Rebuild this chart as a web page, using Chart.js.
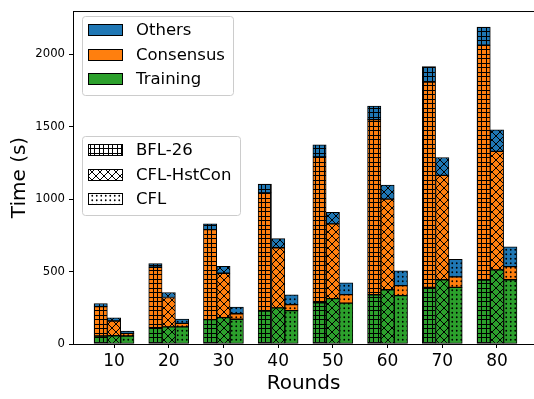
<!DOCTYPE html>
<html>
<head>
<meta charset="utf-8">
<script src="https://cdn.jsdelivr.net/npm/chart.js@4/dist/chart.umd.min.js"></script>
<style>
  html, body { margin: 0; padding: 0; background: #fff; overflow: hidden; }
  #wrap { position: relative; width: 534px; height: 399px; }
</style>
</head>
<body>
<div id="wrap"><canvas id="c"></canvas></div>
<script>
// ---- data ----
const rounds = [10, 20, 30, 40, 50, 60, 70, 80];
const yTicks = [0, 500, 1000, 1500, 2000];

const bflTraining  = [55, 112, 168, 228, 285, 340, 391, 441];
const bflConsensus = [203, 418, 622, 816, 1008, 1210, 1418, 1623];
const bflOthers    = [22, 25, 40, 60, 82, 93, 107, 125];

const hstTraining  = [57, 118, 182, 250, 313, 375, 444, 512];
const hstConsensus = [102, 203, 307, 415, 517, 626, 721, 819];
const hstOthers    = [21, 35, 48, 63, 79, 96, 123, 148];

const cflTraining  = [55, 118, 171, 230, 282, 334, 391, 444];
const cflConsensus = [18, 25, 38, 42, 59, 69, 73, 91];
const cflOthers    = [17, 29, 46, 68, 82, 102, 121, 136];

const componentNames = ['Others', 'Consensus', 'Training'];
const methodNames = ['BFL-26', 'CFL-HstCon', 'CFL'];

// ---- styles ----
const COLORS = { Training: '#2ca02c', Consensus: '#ff7f0e', Others: '#1f77b4' };
const HATCH = { 'BFL-26': 'grid', 'CFL-HstCon': 'cross', 'CFL': 'dots' };
const FONT = 'DejaVu Sans';

function makePattern(color, kind) {
  const size = kind === 'cross' ? 8 : 9;
  const c = document.createElement('canvas');
  c.width = size; c.height = size;
  const g = c.getContext('2d');
  g.fillStyle = color; g.fillRect(0, 0, size, size);
  g.fillStyle = '#000'; g.strokeStyle = '#000';
  if (kind === 'grid') {
    g.fillRect(0, 0, size, 1); g.fillRect(0, 4, size, 1);
    g.fillRect(0, 0, 1, size); g.fillRect(4, 0, 1, size);
  } else if (kind === 'cross') {
    g.lineWidth = 1;
    g.beginPath();
    for (const dx of [-size, 0, size]) {
      g.moveTo(dx - 1, -1); g.lineTo(dx + size + 1, size + 1);
      g.moveTo(dx + size + 1, -1); g.lineTo(dx - 1, size + 1);
    }
    g.stroke();
  } else {
    g.beginPath();
    for (const [x, y] of [[2.25, 2.25], [6.75, 2.25], [2.25, 6.75], [6.75, 6.75]]) {
      g.moveTo(x + 0.9, y); g.arc(x, y, 0.9, 0, Math.PI * 2);
    }
    g.fill();
  }
  return document.createElement('canvas').getContext('2d').createPattern(c, 'repeat');
}

function series(method, comp, values) {
  return {
    label: method + ' ' + comp,
    stack: method,
    data: rounds.map((r, i) => ({ x: r, y: values[i] })),
    backgroundColor: makePattern(COLORS[comp], HATCH[method]),
    borderColor: '#000',
    borderWidth: 1,
    borderSkipped: false,
    barThickness: 13.33
  };
}

const datasets = [
  series('BFL-26', 'Training', bflTraining),
  series('BFL-26', 'Consensus', bflConsensus),
  series('BFL-26', 'Others', bflOthers),
  series('CFL-HstCon', 'Training', hstTraining),
  series('CFL-HstCon', 'Consensus', hstConsensus),
  series('CFL-HstCon', 'Others', hstOthers),
  series('CFL', 'Training', cflTraining),
  series('CFL', 'Consensus', cflConsensus),
  series('CFL', 'Others', cflOthers)
];

function roundRect(ctx, x, y, w, h, r) {
  ctx.beginPath();
  ctx.moveTo(x + r, y);
  ctx.lineTo(x + w - r, y); ctx.arcTo(x + w, y, x + w, y + r, r);
  ctx.lineTo(x + w, y + h - r); ctx.arcTo(x + w, y + h, x + w - r, y + h, r);
  ctx.lineTo(x + r, y + h); ctx.arcTo(x, y + h, x, y + h - r, r);
  ctx.lineTo(x, y + r); ctx.arcTo(x, y, x + r, y, r);
  ctx.closePath();
}

const legendsPlugin = {
  id: 'legends',
  afterDraw(chart) {
    const ctx = chart.ctx;
    const area = chart.chartArea;
    ctx.save();
    // clear any right-edge line, matplotlib's right spine is cropped off in the reference
    ctx.fillStyle = '#fff';
    ctx.fillRect(chart.width - 5, 0, 5, chart.height);
    ctx.strokeStyle = '#000'; ctx.lineWidth = 1;
    // top spine
    ctx.beginPath(); ctx.moveTo(area.left, area.top + 0.5); ctx.lineTo(chart.width, area.top + 0.5); ctx.stroke();
    // restore bottom spine in the cleared strip
    ctx.beginPath(); ctx.moveTo(chart.width - 6, area.bottom + 0.5); ctx.lineTo(chart.width, area.bottom + 0.5); ctx.stroke();

    function box(x, y, w, h, entries) {
      roundRect(ctx, x + 0.5, y + 0.5, w, h, 3);
      ctx.fillStyle = 'rgba(255,255,255,0.8)'; ctx.fill();
      ctx.strokeStyle = '#cccccc'; ctx.lineWidth = 1; ctx.stroke();
      entries.forEach(e => {
        ctx.fillStyle = e.fill;
        ctx.fillRect(88, e.cy - 6, 35, 12);
        ctx.strokeStyle = '#000'; ctx.lineWidth = 1;
        ctx.strokeRect(88.5, e.cy - 5.5, 34, 11);
        ctx.fillStyle = '#000';
        ctx.font = '16.5px "' + FONT + '"';
        ctx.textBaseline = 'middle'; ctx.textAlign = 'left';
        ctx.fillText(e.text, 136, e.cy + 1);
      });
    }
    const cys1 = [30, 55, 79];
    box(82, 16, 151, 79, componentNames.map((n, i) => ({ text: n, fill: COLORS[n], cy: cys1[i] })));
    const cys2 = [150, 175, 199];
    box(82, 136, 158, 79, methodNames.map((n, i) => ({ text: n, fill: makePattern('#ffffff', HATCH[n]), cy: cys2[i] })));
    ctx.restore();
  }
};

new Chart(document.getElementById('c'), {
  type: 'bar',
  data: { datasets },
  options: {
    responsive: true,
    maintainAspectRatio: false,
    animation: false,
    events: [],
    devicePixelRatio: 1,
    layout: { padding: { top: 7, right: 0, left: 0, bottom: 0 } },
    plugins: { legend: { display: false }, tooltip: { enabled: false } },
    scales: {
      x: {
        type: 'linear',
        stacked: true,
        offset: false,
        min: 2.5, max: 86.77,
        afterBuildTicks: s => { s.ticks = rounds.map(v => ({ value: v })); },
        afterFit: s => { s.height = 55; },
        grid: { display: true, offset: false, drawOnChartArea: false, drawTicks: true, tickLength: 4, color: '#000' },
        border: { display: true, color: '#000', width: 1 },
        ticks: { color: '#000', font: { family: FONT, size: 17 }, padding: 3, maxRotation: 0, callback: v => String(v) },
        title: { display: true, text: 'Rounds', color: '#000', font: { family: FONT, size: 20 }, padding: { top: 0, bottom: 3 } }
      },
      y: {
        stacked: true,
        min: 0, max: 2300,
        afterBuildTicks: s => { s.ticks = yTicks.map(v => ({ value: v })); },
        afterFit: s => { s.width = 73; },
        grid: { display: true, drawOnChartArea: false, drawTicks: true, tickLength: 4, color: '#000' },
        border: { display: true, color: '#000', width: 1 },
        ticks: { color: '#000', font: { family: FONT, size: 11.7 }, padding: 4, callback: v => String(v) },
        title: { display: true, text: 'Time (s)', color: '#000', font: { family: FONT, size: 20 }, padding: { top: 8, bottom: 0 } }
      }
    }
  },
  plugins: [legendsPlugin]
});
</script>
</body>
</html>
